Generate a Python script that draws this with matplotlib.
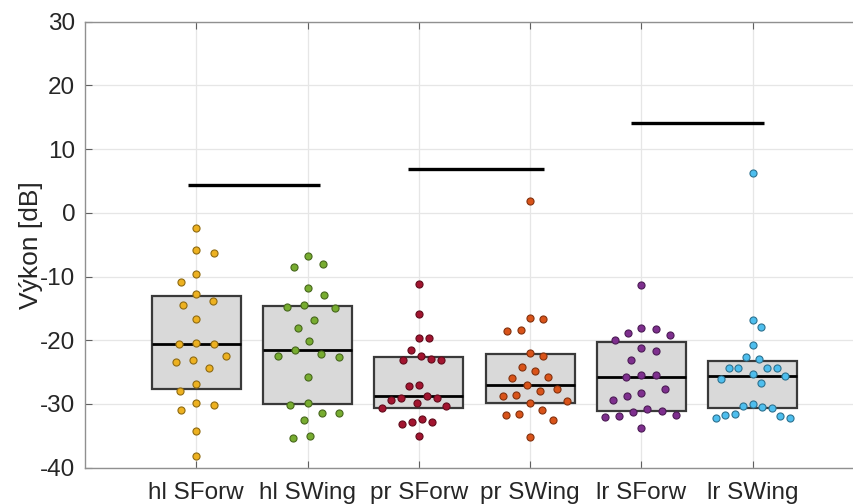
import numpy as np
import matplotlib
matplotlib.use("Agg")
import matplotlib.pyplot as plt

# ---------------- data ----------------
categories = ["hl SForw", "hl SWing", "pr SForw", "pr SWing", "lr SForw", "lr SWing"]

hl_sforw = [-2.4, -6.3, -5.8, -9.6, -10.8, -12.8, -14.5, -13.8, -16.6, -20.6, -20.4, -20.6,
            -23.1, -22.5, -23.4, -24.4, -26.9, -27.9, -29.8, -30.2, -31.0, -34.3, -38.2]
hl_swing = [-6.8, -8.5, -8.1, -11.8, -12.9, -15.0, -14.5, -14.7, -16.8, -18.0, -20.1, -22.1,
            -21.6, -22.7, -22.4, -25.8, -30.1, -29.8, -31.4, -31.4, -32.5, -35.4, -35.1]
pr_sforw = [-11.1, -15.9, -19.7, -19.7, -21.5, -23.1, -22.4, -23.1, -23.0, -27.2, -27.0, -29.3,
            -29.0, -28.8, -29.1, -29.9, -30.7, -30.3, -33.2, -32.8, -32.3, -32.9, -35.0]
pr_swing = [1.9, -16.7, -16.5, -18.5, -18.4, -22.5, -22.0, -24.8, -24.2, -25.9, -25.7, -27.0,
            -28.0, -27.6, -28.8, -28.6, -29.5, -29.9, -31.0, -31.7, -31.5, -32.5, -35.2]
lr_sforw = [-11.3, -18.0, -18.8, -18.2, -19.1, -20.0, -21.7, -21.2, -23.1, -25.7, -25.4, -25.4,
            -27.6, -28.3, -28.8, -29.3, -30.8, -31.1, -31.7, -31.3, -32.0, -31.9, -33.7]
lr_swing = [6.3, -16.8, -17.9, -20.8, -22.9, -22.6, -24.4, -24.3, -24.3, -24.4, -25.3, -25.6,
            -26.0, -26.7, -30.5, -30.0, -30.3, -30.7, -31.5, -31.9, -32.2, -31.8, -32.2]

series = [hl_sforw, hl_swing, pr_sforw, pr_swing, lr_sforw, lr_swing]

# reference levels (one per pair of conditions)
ref_levels = [4.35, 6.9, 14.05]

yticks = [-40, -30, -20, -10, 0, 10, 20, 30]

# ---------------- style ----------------
colors = ["#EDB120", "#77AC30", "#A2142F", "#D95319", "#7E2F8E", "#4DBEEE"]
line_left = [-0.075, -0.10, -0.09]
line_right = [0.11, 0.125, 0.10]

plt.rcParams['font.family'] = ['Liberation Sans', 'DejaVu Sans']
plt.rcParams['axes.unicode_minus'] = False

W, H = 854, 504
fig = plt.figure(figsize=(W / 100, H / 100), dpi=100)
ax_left, ax_top, ax_bottom = 85, 21.7, 467.7
ax_right = 85 + 7 * 111.3
ax = fig.add_axes([ax_left / W, 1 - ax_bottom / H, (ax_right - ax_left) / W, (ax_bottom - ax_top) / H])

ax.set_xlim(0, 7)
ax.set_ylim(-40, 30)

positions = np.arange(1, len(categories) + 1)

# box statistics (quartiles, no whiskers)
stats = []
for vals in series:
    v = np.asarray(vals)
    q1, med, q3 = np.percentile(v, [25, 50, 75], method="hazen")
    stats.append(dict(med=med, q1=q1, q3=q3, whislo=q1, whishi=q3, fliers=[]))

ax.bxp(stats, positions=positions, widths=0.8, patch_artist=True, showcaps=False,
       showfliers=False,
       boxprops=dict(facecolor="#D9D9D9", edgecolor="#3a3a3a", linewidth=1.6),
       medianprops=dict(color="black", linewidth=2.0),
       whiskerprops=dict(linewidth=0), zorder=2)

# swarm layout computed in display (pixel) space
px_per_x = (ax_right - ax_left) / 7.0
px_per_y = (ax_bottom - ax_top) / 70.0
D = 17.5  # collision distance in pixels
MAX_HALF = 0.33  # maximum half-width of a swarm (x units)


def swarm_offsets(vals):
    y = np.asarray(vals) * px_per_y
    order = np.argsort(-y)
    placed_x, placed_y = [], []
    xs = np.zeros(len(y))
    flip = 1.0
    for i in order:
        cands = [0.0]
        for px, py in zip(placed_x, placed_y):
            dy = abs(y[i] - py)
            if dy < D:
                dx = np.sqrt(D * D - dy * dy)
                cands += [px + dx, px - dx]
        cands = sorted(cands, key=lambda c: (round(abs(c), 3), -flip * c))
        for c in cands:
            ok = True
            for px, py in zip(placed_x, placed_y):
                if (c - px) ** 2 + (y[i] - py) ** 2 < D * D - 1e-6:
                    ok = False
                    break
            if ok:
                xs[i] = c
                break
        if xs[i] != 0:
            flip = -np.sign(xs[i])
        placed_x.append(xs[i])
        placed_y.append(y[i])
    off = xs / px_per_x
    m = np.max(np.abs(off))
    if m > MAX_HALF:
        off = off * MAX_HALF / m
    return off


def darker(c, f=0.6):
    r, g, b = matplotlib.colors.to_rgb(c)
    return (r * f, g * f, b * f)


for pos, vals, col in zip(positions, series, colors):
    off = swarm_offsets(vals)
    ax.scatter(pos + off, vals, s=26, color=col, edgecolor=darker(col), linewidth=0.8, zorder=4)

# reference lines
for k, lvl in enumerate(ref_levels):
    x0 = positions[2 * k] + line_left[k]
    x1 = positions[2 * k + 1] + line_right[k]
    ax.plot([x0, x1], [lvl, lvl], color="black", linewidth=2.4, solid_capstyle="butt", zorder=5)

# axes styling
ax.set_xticks(positions)
ax.set_xticklabels(categories)
ax.set_yticks(yticks)
ax.grid(True, color="#e6e6e6", linewidth=0.9, zorder=0)
ax.set_axisbelow(True)
for side in ["left", "bottom", "top", "right"]:
    ax.spines[side].set_color("#909090")
    ax.spines[side].set_linewidth(1.0)
ax.tick_params(direction="in", length=5, width=0.8, color="#606060",
               labelsize=17.5, labelcolor="#262626", top=True, right=True, pad=7)
ax.tick_params(axis="x", pad=10)
ax.set_ylabel("Výkon [dB]", fontsize=19, color="#262626", labelpad=-2)

fig.savefig("out.png", dpi=100)
